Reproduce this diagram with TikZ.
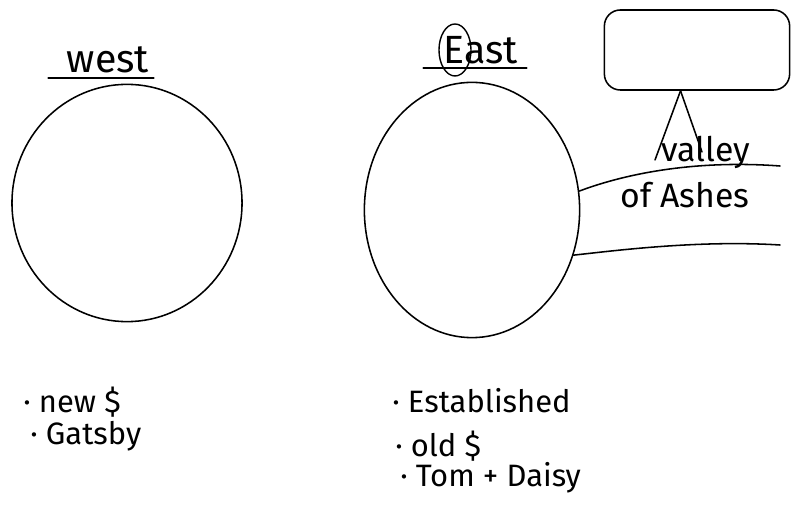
\documentclass[tikz,border=0pt]{standalone}
\usepackage{fontspec}
\setmainfont{Fira Sans}
\usetikzlibrary{shapes.geometric}
\tikzset{city/.style = {draw, ellipse, line width = 1.1pt}}
\tikzset{heading/.style = {font = \fontsize{28}{30}\selectfont, inner sep = 3pt}}
\tikzset{point/.style = {font = \fontsize{22}{24}\selectfont, anchor = west, inner sep = 0}}
\tikzset{ink/.style = {line width = 1.1pt, line cap = round}}

\begin{document}
\begin{tikzpicture}[x = 0.025cm, y = -0.025cm]
  \useasboundingbox (0, 0) rectangle (797, 511);
  \node [city, minimum width = 5.75cm, minimum height = 5.93cm] (west) at (127, 203) {};
  \node [city, minimum width = 5.38cm, minimum height = 6.38cm] (east) at (472, 210) {};
  \node [heading] (westlabel) at (108, 60) {west};
  \node [heading] (eastlabel) at (481, 50) {East};
  \node [draw, ellipse, line width = 1pt, minimum width = 0.8cm, minimum height = 1.3cm] (ering) at ([xshift = 0.39cm] eastlabel.west) {};
  \draw [ink, line width = 1.6pt] ([xshift = -0.35cm] westlabel.south west) -- (westlabel.south east);
  \draw [ink, line width = 1.6pt] ([xshift = -0.4cm] eastlabel.south west) -- ([xshift = 0.1cm] eastlabel.south east);
  % valley of ashes
  \node [draw, rounded corners = 0.4cm, line width = 1.1pt, minimum width = 4.63cm, minimum height = 2cm] (sign) at (697, 50) {};
  \coordinate (leg1) at (655, 160);
  \coordinate (leg2) at (702, 152);
  \draw [ink] (sign.248) -- (leg1);
  \draw [ink] (sign.248) -- (leg2);
  \coordinate (upper) at (780, 166);
  \coordinate (lower) at (780, 245);
  \draw [ink] (east.10) .. controls (630, 172) and (700, 160) .. (upper);
  \draw [ink] (east.-24) .. controls (620, 250) and (700, 240) .. (lower);
  \node [font = \fontsize{24}{26}\selectfont, inner sep = 0] (valley) at (706, 152) {valley};
  \node [font = \fontsize{24}{26}\selectfont, inner sep = 0] (ashes) at (685, 195) {of Ashes};
  % notes
  \node [point] (new) at (23, 402) {· new \$};
  \node [point] (gatsby) at (30, 436) {· Gatsby};
  \node [point] (established) at (392, 401) {· Established};
  \node [point] (old) at (395, 446) {· old \$};
  \node [point] (tom) at (400, 478) {· Tom + Daisy};
\end{tikzpicture}
\end{document}
